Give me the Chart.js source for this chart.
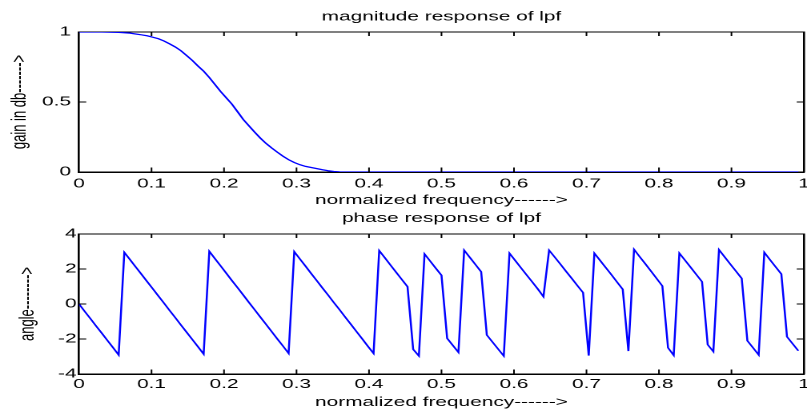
<!DOCTYPE html>
<html>
<head>
<meta charset="utf-8">
<script src="https://cdn.jsdelivr.net/npm/chart.js@4/dist/chart.umd.min.js"></script>
<style>
  html, body { margin: 0; padding: 0; background: #fff; }
  #wrap { position: relative; width: 807px; height: 414px; overflow: hidden; background: #fff; }
  canvas { position: absolute; left: 0; transform-origin: 0 0; transform: scaleX(1.60119); }
  #c1 { top: 0; }
  #c2 { top: 207px; }
</style>
</head>
<body>
<div id="wrap">
  <canvas id="c1" width="504" height="207"></canvas>
  <canvas id="c2" width="504" height="207"></canvas>
</div>
<script>
// ---- data ----
const freq = [
  0, 0.0078, 0.0156, 0.0234, 0.0313, 0.0391, 0.0469, 0.0547, 0.0625, 0.0703,
  0.0781, 0.0859, 0.0938, 0.1016, 0.1094, 0.1172, 0.125, 0.1328, 0.1406, 0.1484,
  0.1563, 0.1641, 0.1719, 0.1797, 0.1875, 0.1953, 0.2031, 0.2109, 0.2188, 0.2266,
  0.2344, 0.2422, 0.25, 0.2578, 0.2656, 0.2734, 0.2813, 0.2891, 0.2969, 0.3047,
  0.3125, 0.3203, 0.3281, 0.3359, 0.3438, 0.3516, 0.3594, 0.3672, 0.375, 0.3828,
  0.3906, 0.3984, 0.4063, 0.4141, 0.4219, 0.4297, 0.4375, 0.4453, 0.4531, 0.4609,
  0.4688, 0.4766, 0.4844, 0.4922, 0.5, 0.5078, 0.5156, 0.5234, 0.5313, 0.5391,
  0.5469, 0.5547, 0.5625, 0.5703, 0.5781, 0.5859, 0.5938, 0.6016, 0.6094, 0.6172,
  0.625, 0.6328, 0.6406, 0.6484, 0.6563, 0.6641, 0.6719, 0.6797, 0.6875, 0.6953,
  0.7031, 0.7109, 0.7188, 0.7266, 0.7344, 0.7422, 0.75, 0.7578, 0.7656, 0.7734,
  0.7813, 0.7891, 0.7969, 0.8047, 0.8125, 0.8203, 0.8281, 0.8359, 0.8438, 0.8516,
  0.8594, 0.8672, 0.875, 0.8828, 0.8906, 0.8984, 0.9063, 0.9141, 0.9219, 0.9297,
  0.9375, 0.9453, 0.9531, 0.9609, 0.9688, 0.9766, 0.9844, 0.9922
];
const magnitude = [
  1, 1, 1, 1, 1, 0.999, 0.998, 0.997, 0.995, 0.992,
  0.986, 0.98, 0.973, 0.963, 0.952, 0.936, 0.915, 0.893, 0.866, 0.832,
  0.797, 0.757, 0.72, 0.675, 0.625, 0.575, 0.53, 0.485, 0.43, 0.375,
  0.33, 0.285, 0.243, 0.205, 0.172, 0.142, 0.113, 0.088, 0.068, 0.052,
  0.04, 0.032, 0.024, 0.016, 0.009, 0.004, 0.001, 0, 0, 0,
  0, 0, 0, 0, 0, 0, 0, 0, 0, 0,
  0, 0, 0, 0, 0, 0, 0, 0, 0, 0,
  0, 0, 0, 0, 0, 0, 0, 0, 0, 0,
  0, 0, 0, 0, 0, 0, 0, 0, 0, 0,
  0, 0, 0, 0, 0, 0, 0, 0, 0, 0,
  0, 0, 0, 0, 0, 0, 0, 0, 0, 0,
  0, 0, 0, 0, 0, 0, 0, 0, 0, 0,
  0, 0, 0, 0, 0, 0, 0, 0
];
const phase = [
  0, -0.42, -0.83, -1.25, -1.66, -2.08, -2.49, -2.91, 2.95, 2.54,
  2.12, 1.71, 1.29, 0.88, 0.46, 0.05, -0.37, -0.78, -1.2, -1.61,
  -2.03, -2.44, -2.86, 3.01, 2.59, 2.18, 1.76, 1.34, 0.93, 0.51,
  0.09, -0.32, -0.74, -1.15, -1.57, -1.99, -2.4, -2.82, 2.99, 2.57,
  2.16, 1.74, 1.33, 0.91, 0.5, 0.08, -0.33, -0.75, -1.16, -1.58,
  -1.99, -2.41, -2.82, 3.05, 2.64, 2.22, 1.81, 1.4, 0.99, -2.59,
  -2.97, 2.86, 2.45, 2.04, 1.64, -1.96, -2.36, -2.76, 3.07, 2.66,
  2.25, 1.84, -1.77, -2.17, -2.57, -2.97, 2.9, 2.49, 2.08, 1.67,
  1.27, 0.86, 0.42, 3.07, 2.67, 2.27, 1.86, 1.46, 1.05, 0.65,
  -2.95, 2.9, 2.49, 2.08, 1.67, 1.25, 0.84, -2.69, 3.12, 2.7,
  2.29, 1.87, 1.45, 1.03, -2.5, -2.93, 2.9, 2.5, 2.09, 1.68,
  1.27, -2.32, -2.72, 3.1, 2.69, 2.28, 1.87, 1.46, -2.1, -2.5,
  -2.91, 2.95, 2.53, 2.12, 1.71, -1.87, -2.27, -2.67
];
const xTickValues = [0, 0.1, 0.2, 0.3, 0.4, 0.5, 0.6, 0.7, 0.8, 0.9, 1];
const xTickLabels = ['0', '0.1', '0.2', '0.3', '0.4', '0.5', '0.6', '0.7', '0.8', '0.9', '1'];
const magTickValues = [0, 0.5, 1];
const magTickLabels = ['0', '0.5', '1'];
const phaseTickValues = [-4, -2, 0, 2, 4];
const phaseTickLabels = ['-4', '-2', '0', '2', '4'];

// ---- styling ----
const FONT = 'Liberation Sans, Arial, Helvetica, sans-serif';
const CW = 504;            // canvas width before horizontal stretch
const PLOT_RIGHT = 502.1;  // chart area right edge (unstretched)
const PLOT_LEFT = 49.34;   // chart area left edge (unstretched)

const innerTicks = {
  id: 'innerTicks',
  afterDraw(chart) {
    const { ctx, chartArea: a, scales } = chart;
    ctx.save();
    ctx.strokeStyle = '#000';
    ctx.lineWidth = 1;
    ctx.beginPath();
    scales.x.ticks.forEach(t => {
      const px = scales.x.getPixelForValue(t.value);
      if (px <= a.left + 1 || px >= a.right - 1) return;
      ctx.moveTo(px, a.bottom); ctx.lineTo(px, a.bottom - 4.5);
      ctx.moveTo(px, a.top); ctx.lineTo(px, a.top + 4);
    });
    scales.y.ticks.forEach(t => {
      const py = scales.y.getPixelForValue(t.value);
      if (py <= a.top + 1 || py >= a.bottom - 1) return;
      ctx.moveTo(a.left, py); ctx.lineTo(a.left + 4.5, py);
      ctx.moveTo(a.right, py); ctx.lineTo(a.right - 4.5, py);
    });
    ctx.stroke();
    ctx.restore();
  }
};

function noPad(s) { s.paddingLeft = 0; s.paddingRight = 0; s.paddingTop = 0; s.paddingBottom = 0; }

function makeChart(id, yValues, yMin, yMax, yTickValues, yTickLabels, cfg) {
  const font = { family: FONT, size: 13, lineHeight: 1 };
  return new Chart(document.getElementById(id), {
    type: 'line',
    data: {
      datasets: [{
        data: freq.map((f, i) => ({ x: f, y: yValues[i] })),
        borderColor: '#0000ff',
        borderWidth: 1.25,
        pointRadius: 0,
        tension: 0,
        fill: false
      }]
    },
    options: {
      responsive: false,
      animation: false,
      devicePixelRatio: 2,
      layout: { padding: 0, autoPadding: false },
      plugins: { legend: { display: false }, tooltip: { enabled: false }, title: { display: false } },
      scales: {
        x: {
          type: 'linear', position: 'bottom', min: 0, max: 1,
          afterBuildTicks: s => { s.ticks = xTickValues.map(v => ({ value: v })); },
          ticks: { callback: (v, i) => xTickLabels[i], color: '#000', font, padding: cfg.xTickPad, maxRotation: 0, autoSkip: false },
          grid: { display: false, drawTicks: false },
          border: { display: true, color: '#000', width: 1.5 },
          title: { display: true, text: 'normalized frequency------>', color: '#000', font, padding: { top: 0, bottom: cfg.xTitlePad } },
          afterFit: s => { s.height = cfg.xHeight; noPad(s); }
        },
        x2: {
          type: 'linear', position: 'top', min: 0, max: 1,
          ticks: { display: false },
          grid: { display: false, drawTicks: false },
          border: { display: true, color: '#000', width: 1 },
          title: { display: true, text: cfg.title, color: '#000', font, padding: { top: cfg.titlePad, bottom: 0 } },
          afterFit: s => { s.height = cfg.topHeight; noPad(s); }
        },
        y: {
          type: 'linear', position: 'left', min: yMin, max: yMax,
          afterBuildTicks: s => { s.ticks = yTickValues.map(v => ({ value: v })); },
          ticks: { callback: (v, i) => yTickLabels[i], color: '#000', font, padding: cfg.yTickPad, autoSkip: false },
          grid: { display: false, drawTicks: false },
          border: { display: true, color: '#000', width: 1.3 },
          title: { display: true, text: cfg.yTitle, color: '#000', font, padding: { top: cfg.yTitlePad, bottom: 0 } },
          afterFit: s => { s.width = PLOT_LEFT; noPad(s); }
        },
        y2: {
          type: 'linear', position: 'right', min: yMin, max: yMax,
          ticks: { display: false },
          grid: { display: false, drawTicks: false },
          border: { display: true, color: '#000', width: 1.3 },
          afterFit: s => { s.width = CW - PLOT_RIGHT; noPad(s); }
        }
      }
    },
    plugins: [innerTicks]
  });
}

makeChart('c1', magnitude, 0, 1, magTickValues, magTickLabels, {
  title: 'magnitude response of lpf', titlePad: 10.5, topHeight: 32,
  xHeight: 35, xTickPad: 5.5, xTitlePad: 0,
  yTitle: 'gain in db------->', yTitlePad: 6, yTickPad: 5
});
makeChart('c2', phase, -4, 4, phaseTickValues, phaseTickLabels, {
  title: 'phase response of lpf', titlePad: 5, topHeight: 27,
  xHeight: 40, xTickPad: 4, xTitlePad: 5,
  yTitle: 'angle-------->', yTitlePad: 10.8, yTickPad: 1.5
});
</script>
</body>
</html>
